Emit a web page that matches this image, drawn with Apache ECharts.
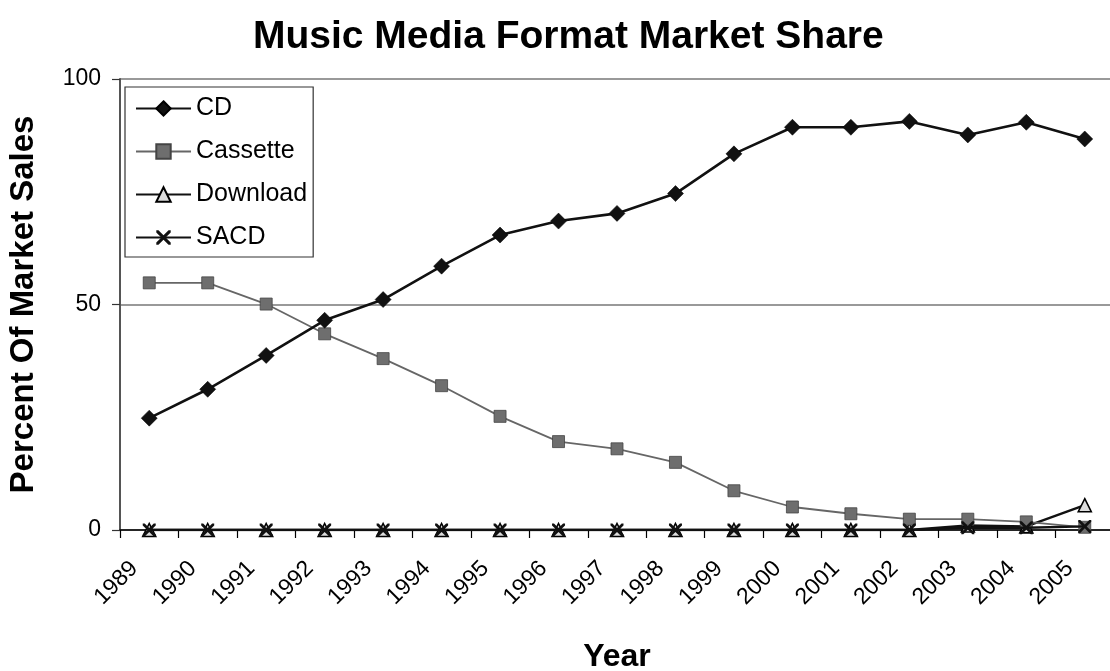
<!DOCTYPE html>
<html>
<head>
<meta charset="utf-8">
<script src="https://cdn.jsdelivr.net/npm/echarts@6/dist/echarts.min.js"></script>
<style>
html,body{margin:0;padding:0;background:#fff;}
#c{width:1110px;height:671px;}
</style>
</head>
<body>
<div id="c"></div>
<script>
const years = ['1989','1990','1991','1992','1993','1994','1995','1996','1997','1998','1999','2000','2001','2002','2003','2004','2005'];
const cd = [24.8, 31.2, 38.7, 46.5, 51.1, 58.5, 65.4, 68.5, 70.2, 74.6, 83.4, 89.3, 89.3, 90.6, 87.6, 90.4, 86.7];
const cassette = [54.8, 54.8, 50.1, 43.5, 38.0, 32.0, 25.2, 19.6, 18.0, 15.0, 8.7, 5.1, 3.6, 2.4, 2.4, 1.8, 0.6];
const download = [0, 0, 0, 0, 0, 0, 0, 0, 0, 0, 0, 0, 0, 0, 1.0, 0.8, 5.5];
const sacd = [0, 0, 0, 0, 0, 0, 0, 0, 0, 0, 0, 0, 0, 0, 0.5, 0.5, 0.8];
const yTicks = [0, 50, 100];

const FONT = '"Liberation Sans", Arial, Helvetica, sans-serif';
const xPath = 'path://M0,0 L3,0 L10,7 L17,0 L20,0 L20,3 L13,10 L20,17 L20,20 L17,20 L10,13 L3,20 L0,20 L0,17 L7,10 L0,3 Z';

const chart = echarts.init(document.getElementById('c'), null, {renderer: 'canvas'});
chart.setOption({
  animation: false,
  backgroundColor: '#fff',
  title: {
    text: 'Music Media Format Market Share',
    left: 248, top: 13,
    textStyle: {fontFamily: FONT, fontSize: 39, fontWeight: 'bold', color: '#000'}
  },
  legend: {
    orient: 'vertical',
    left: 125, top: 87,
    padding: [9, 6, 7, 10],
    itemGap: 18,
    itemWidth: 55,
    itemHeight: 18,
    borderColor: '#333',
    borderWidth: 1.2,
    textStyle: {fontFamily: FONT, fontSize: 25, color: '#000', lineHeight: 25},
    data: ['CD', 'Cassette', 'Download', 'SACD']
  },
  grid: {left: 120, top: 79, width: 994, height: 451, containLabel: false, outerBoundsMode: 'none'},
  xAxis: {
    type: 'category',
    data: years,
    boundaryGap: true,
    name: 'Year',
    nameLocation: 'middle',
    nameGap: 111,
    nameTextStyle: {fontFamily: FONT, fontSize: 32, fontWeight: 'bold', color: '#000'},
    axisLine: {lineStyle: {color: '#000', width: 1.5}},
    axisTick: {show: true, length: 8, inside: false, lineStyle: {color: '#000', width: 1.2}},
    axisLabel: {rotate: 45, margin: 20, padding: [0, 21, 0, 0], fontFamily: FONT, fontSize: 23, color: '#000', interval: 0},
    splitLine: {show: false}
  },
  yAxis: {
    type: 'value',
    min: 0, max: 100, interval: 50,
    name: 'Percent Of Market Sales',
    nameLocation: 'middle',
    nameRotate: 90,
    nameGap: 80,
    nameTextStyle: {fontFamily: FONT, fontSize: 33, fontWeight: 'bold', color: '#000'},
    axisLine: {show: true, lineStyle: {color: '#555', width: 2}},
    axisTick: {show: true, length: 8, lineStyle: {color: '#333', width: 1.2}},
    axisLabel: {
      margin: 19, fontFamily: FONT, fontSize: 23, color: '#000',
      formatter: v => yTicks.includes(v) ? String(v) : ''
    },
    splitLine: {show: true, lineStyle: {color: '#777', width: 1.5}}
  },
  series: [
    {
      name: 'CD', type: 'line', data: cd,
      symbol: 'diamond', symbolSize: 16,
      lineStyle: {color: '#111', width: 2.6},
      itemStyle: {color: '#111', borderColor: '#000', borderWidth: 0.5},
      z: 5
    },
    {
      name: 'Cassette', type: 'line', data: cassette,
      symbol: 'rect', symbolSize: 12,
      lineStyle: {color: '#666', width: 1.8},
      itemStyle: {color: '#6e6e6e', borderColor: '#444', borderWidth: 0.8},
      z: 4
    },
    {
      name: 'Download', type: 'line', data: download,
      symbol: 'triangle', symbolSize: 13,
      lineStyle: {color: '#111', width: 2.4},
      itemStyle: {color: '#ddd', borderColor: '#000', borderWidth: 1.6},
      z: 3
    },
    {
      name: 'SACD', type: 'line', data: sacd,
      symbol: xPath, symbolSize: 13,
      lineStyle: {color: '#111', width: 2.4},
      itemStyle: {color: '#111'},
      z: 6
    }
  ]
});
</script>
</body>
</html>
